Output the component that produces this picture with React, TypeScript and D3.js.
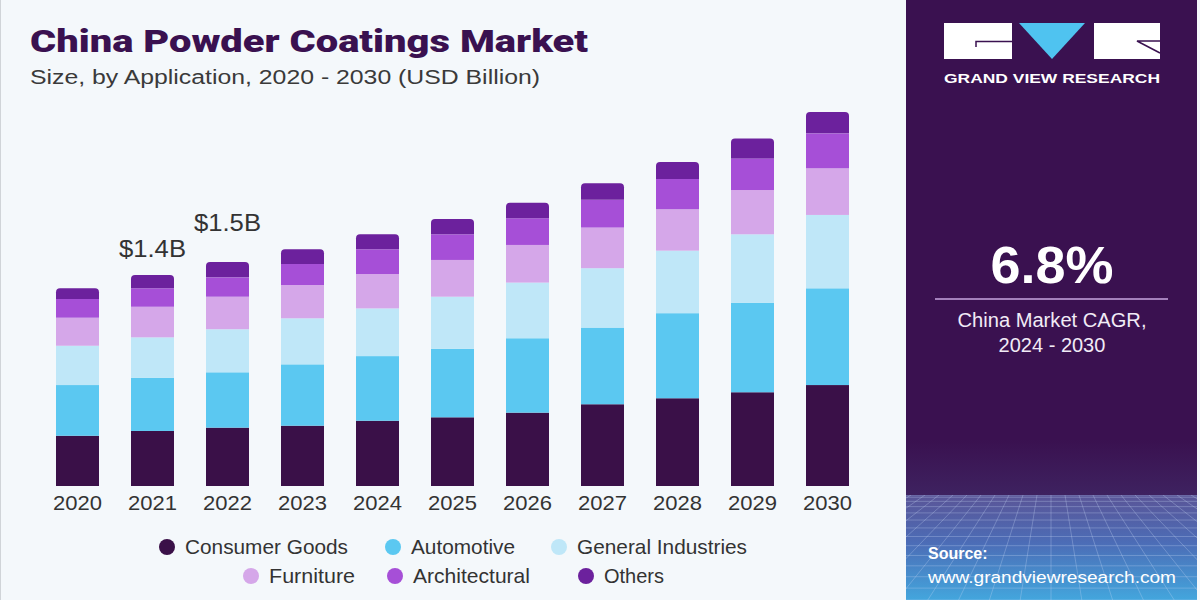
import React from 'react';
import * as d3 from 'd3';

// Market size by application, USD billion
const years = ['2020', '2021', '2022', '2023', '2024', '2025', '2026', '2027', '2028', '2029', '2030'];
const consumerGoods = [0.335, 0.367, 0.389, 0.402, 0.435, 0.458, 0.489, 0.545, 0.585, 0.625, 0.673];
const automotive = [0.338, 0.355, 0.369, 0.409, 0.431, 0.457, 0.496, 0.511, 0.567, 0.597, 0.645];
const generalIndustries = [0.262, 0.269, 0.287, 0.307, 0.318, 0.347, 0.371, 0.396, 0.417, 0.456, 0.489];
const furniture = [0.187, 0.204, 0.217, 0.222, 0.229, 0.245, 0.251, 0.271, 0.276, 0.295, 0.311];
const architectural = [0.125, 0.123, 0.129, 0.14, 0.165, 0.171, 0.178, 0.185, 0.202, 0.211, 0.233];
const others = [0.071, 0.089, 0.102, 0.098, 0.1, 0.102, 0.104, 0.111, 0.113, 0.133, 0.142];

const seriesNames = ['Consumer Goods', 'Automotive', 'General Industries', 'Furniture', 'Architectural', 'Others'];
const seriesValues = [consumerGoods, automotive, generalIndustries, furniture, architectural, others];
const seriesColors = ['#3a1048', '#5bc8f1', '#bfe7f8', '#d5a7e9', '#a64fd7', '#6c219d'];

const labelledYears = ['2021', '2022'];
const cagrText = '6.8%';

const W = 1200;
const H = 600;
const sans = "'Liberation Sans', Arial, sans-serif";

export default function App() {
  const rows = years.map((y, i) => {
    const r: Record<string, any> = { year: y };
    seriesNames.forEach((s, j) => (r[s] = seriesValues[j][i]));
    return r;
  });
  const stacked = d3.stack<any>().keys(seriesNames)(rows);
  const totals = years.map((_, i) => d3.sum(seriesValues, (s) => s[i]));

  const x = d3.scaleBand<string>().domain(years).range([40, 865]).paddingInner(0.4267).paddingOuter(0.2133);
  const y = d3.scaleLinear().domain([0, 2.5]).range([486, 111]);
  const bw = x.bandwidth();
  const r = 4;

  const topPath = (x0: number, y0: number, y1: number) => {
    // rounded top corners, square bottom
    const p = d3.path();
    p.moveTo(x0, y1);
    p.lineTo(x0, y0 + r);
    p.arcTo(x0, y0, x0 + r, y0, r);
    p.lineTo(x0 + bw - r, y0);
    p.arcTo(x0 + bw, y0, x0 + bw, y0 + r, r);
    p.lineTo(x0 + bw, y1);
    p.closePath();
    return p.toString();
  };

  const labelLift: Record<string, number> = { '2021': 18, '2022': 31 };

  const legendRows = [
    [
      { i: 0, cx: 167, len: 163 },
      { i: 1, cx: 393, len: 104 },
      { i: 2, cx: 559, len: 170 },
    ],
    [
      { i: 3, cx: 251, len: 86 },
      { i: 4, cx: 395, len: 117 },
      { i: 5, cx: 586, len: 60 },
    ],
  ];
  const legendY = [547, 576];

  // decorative perspective grid in the source box
  const gridTop = 495;
  const hLines = d3.range(0, 14).map((k) => gridTop + 105 * Math.pow(k / 13, 1.5));
  const vLines = d3.range(-20, 21).map((k) => 1051 + k * 14);

  return (
    <svg width={W} height={H} style={{ position: 'fixed', left: 0, top: 0, display: 'block' }}>
      <defs>
        <linearGradient id="srcGrad" x1="0" y1="0" x2="0" y2="1">
          <stop offset="0" stopColor="#5a5597" />
          <stop offset="0.45" stopColor="#4c6cb6" />
          <stop offset="1" stopColor="#43a6dd" />
        </linearGradient>
        <linearGradient id="panelFade" x1="0" y1="0" x2="0" y2="1">
          <stop offset="0" stopColor="#3a1150" />
          <stop offset="1" stopColor="#3e2260" />
        </linearGradient>
        <clipPath id="srcClip">
          <rect x={906} y={gridTop} width={291} height={H - gridTop} />
        </clipPath>
      </defs>

      <rect x={0} y={0} width={W} height={H} fill="#f4f8fb" />
      <rect x={0} y={0} width={1} height={H} fill="#d0d4d8" />

      {/* Title */}
      <text x={30} y={52} fontFamily="Roboto, sans-serif" fontWeight={900} fontSize={31} fill="#3a1150" textLength={558} lengthAdjust="spacingAndGlyphs">
        China Powder Coatings Market
      </text>
      <text x={30} y={84} fontFamily={sans} fontSize={20} fill="#3a3a3a" textLength={510} lengthAdjust="spacingAndGlyphs">
        Size, by Application, 2020 - 2030 (USD Billion)
      </text>

      {/* Stacked bars */}
      {stacked.map((layer, li) => (
        <g key={layer.key} fill={seriesColors[li]}>
          {layer.map((d, i) => {
            const x0 = x(years[i]) as number;
            const y0 = y(d[1]);
            const y1 = y(d[0]);
            return li === stacked.length - 1 ? (
              <path key={i} d={topPath(x0, y0, y1)} />
            ) : (
              <rect key={i} x={x0} y={y0} width={bw} height={y1 - y0} />
            );
          })}
        </g>
      ))}

      {/* Total labels */}
      {labelledYears.map((yr) => {
        const i = years.indexOf(yr);
        return (
          <text key={yr} x={(x(yr) as number) + bw / 2} y={y(totals[i]) - labelLift[yr]} textAnchor="middle" fontFamily={sans} fontSize={24} fill="#333" textLength={67} lengthAdjust="spacingAndGlyphs">
            {`$${totals[i].toFixed(1)}B`}
          </text>
        );
      })}

      {/* Year axis */}
      {years.map((yr) => (
        <text key={yr} x={(x(yr) as number) + bw / 2} y={510} textAnchor="middle" fontFamily={sans} fontSize={21} fill="#333" textLength={49} lengthAdjust="spacingAndGlyphs">
          {yr}
        </text>
      ))}

      {/* Legend */}
      {legendRows.map((row, ri) =>
        row.map(({ i, cx, len }) => (
          <g key={i}>
            <circle cx={cx} cy={legendY[ri]} r={8} fill={seriesColors[i]} />
            <text x={cx + 18} y={legendY[ri] + 7} fontFamily={sans} fontSize={21} fill="#333" textLength={len} lengthAdjust="spacingAndGlyphs">
              {seriesNames[i]}
            </text>
          </g>
        ))
      )}

      {/* Side panel */}
      <rect x={906} y={0} width={291} height={H} fill="#3a1150" />
      <rect x={906} y={440} width={291} height={55} fill="url(#panelFade)" />
      <rect x={906} y={gridTop} width={291} height={H - gridTop} fill="url(#srcGrad)" />
      <g clipPath="url(#srcClip)" stroke="#c8d8f5" strokeOpacity={0.3} strokeWidth={1}>
        {hLines.map((hy, k) => (
          <line key={'h' + k} x1={906} x2={1197} y1={hy} y2={hy} />
        ))}
        {vLines.map((vx, k) => (
          <line key={'v' + k} x1={vx} y1={gridTop} x2={1051 + (vx - 1051) * 2.2} y2={H} />
        ))}
      </g>

      {/* Logo */}
      <rect x={944} y={23} width={68} height={36} fill="#ffffff" />
      <path d="M1012,41.5 L976,41.5 L976,47" fill="none" stroke="#3a1150" strokeWidth={1.5} />
      <path d="M1019,23 L1085,23 L1052,59 Z" fill="#4fc3f0" />
      <rect x={1094} y={23} width={66} height={36} fill="#ffffff" />
      <path d="M1160,41 L1137,41 L1160,53" fill="none" stroke="#3a1150" strokeWidth={1.5} />
      <text x={944} y={83} fontFamily={sans} fontWeight={700} fontSize={13} fill="#ffffff" textLength={216} lengthAdjust="spacingAndGlyphs">
        GRAND VIEW RESEARCH
      </text>

      {/* CAGR */}
      <text x={1052} y={283} textAnchor="middle" fontFamily={sans} fontWeight={700} fontSize={51} fill="#ffffff" textLength={123} lengthAdjust="spacingAndGlyphs">
        {cagrText}
      </text>
      <line x1={935} x2={1168} y1={299} y2={299} stroke="#c7a6df" strokeWidth={1.5} />
      <text x={1052} y={327} textAnchor="middle" fontFamily={sans} fontSize={20} fill="#f1ebf6" textLength={189} lengthAdjust="spacingAndGlyphs">
        China Market CAGR,
      </text>
      <text x={1052} y={352} textAnchor="middle" fontFamily={sans} fontSize={20} fill="#f1ebf6">
        2024 - 2030
      </text>

      {/* Source */}
      <text x={928} y={559} fontFamily={sans} fontWeight={700} fontSize={16} fill="#ffffff">
        Source:
      </text>
      <text x={928} y={583} fontFamily={sans} fontSize={16} fill="#ffffff" textLength={248} lengthAdjust="spacingAndGlyphs">
        www.grandviewresearch.com
      </text>
    </svg>
  );
}
